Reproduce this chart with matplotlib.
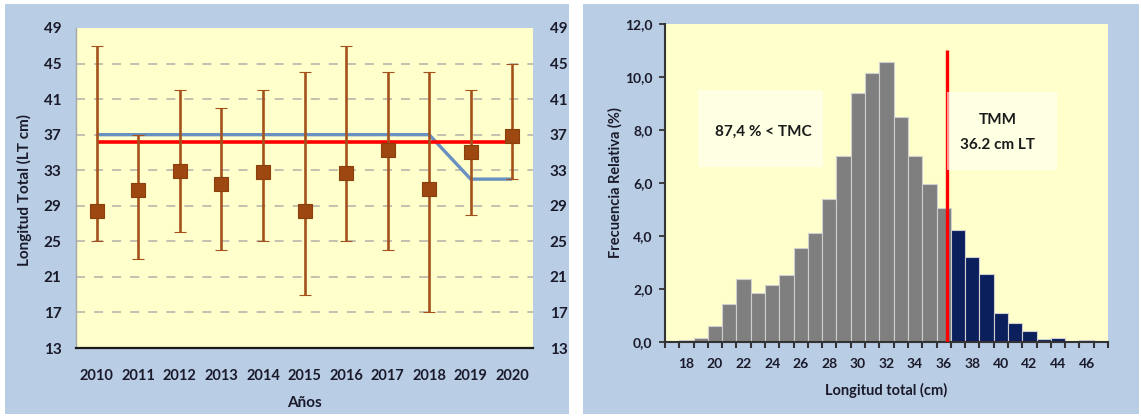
import matplotlib
matplotlib.use("Agg")
import matplotlib.pyplot as plt
from matplotlib.patches import Rectangle
from matplotlib.ticker import FixedLocator

# ---------------- data ----------------
years = ["2010", "2011", "2012", "2013", "2014", "2015",
         "2016", "2017", "2018", "2019", "2020"]
mean_lt = [28.4, 30.8, 32.9, 31.4, 32.8, 28.4, 32.7, 35.3, 30.9, 35.0, 36.8]
min_lt = [25, 23, 26, 24, 25, 19, 25, 24, 17, 28, 32]
max_lt = [47, 37, 42, 40, 42, 44, 47, 44, 44, 42, 45]
min_catch_size = [37, 37, 37, 37, 37, 37, 37, 37, 37, 32, 32]
tmm = 36.2
lt_ticks = [13, 17, 21, 25, 29, 33, 37, 41, 45, 49]

length_classes = list(range(17, 48))
rel_freq = [0.03, 0.05, 0.15, 0.60, 1.44, 2.36, 1.85, 2.13, 2.53, 3.53,
            4.10, 5.40, 7.00, 9.40, 10.15, 10.55, 8.50, 7.02, 5.97, 5.06,
            4.22, 3.20, 2.56, 1.08, 0.70, 0.42, 0.10, 0.14, 0.00, 0.05, 0.00]
freq_ticks = [0, 2, 4, 6, 8, 10, 12]
freq_tick_labels = ["0,0", "2,0", "4,0", "6,0", "8,0", "10,0", "12,0"]
length_ticks = list(range(18, 47, 2))
below_tmc_text = "87,4 % < TMC"

# ---------------- styling ----------------
W, H = 1141, 418
PANEL = "#b9cde5"
PLOT_BG = "#ffffcc"
BROWN = "#a4521c"
BROWN_DARK = "#8a3f0c"
GRAY_BAR = "#7f7f7f"
NAVY_BAR = "#0b1f5c"
TEXT = "#1a1a2a"
SANS = ["Lato", "DejaVu Sans"]

fig = plt.figure(figsize=(W / 100, H / 100), dpi=100)
fig.patch.set_facecolor("white")


def fx(px):
    return px / W


def fy(py):
    return 1 - py / H


def add_panel(x0, y0, x1, y1):
    fig.patches.append(Rectangle((fx(x0), fy(y1)), fx(x1) - fx(x0), fy(y0) - fy(y1),
                                 transform=fig.transFigure, facecolor=PANEL,
                                 edgecolor="none", zorder=-10))


add_panel(5, 4, 569, 414)
add_panel(583, 4, 1139, 414)

# ---------------- left: length by year ----------------
ax1 = fig.add_axes([fx(76), fy(348), fx(533) - fx(76), fy(28) - fy(348)])
ax1.set_facecolor(PLOT_BG)
x = list(range(len(years)))
ax1.set_xlim(-0.5, len(years) - 0.5)
ax1.set_ylim(lt_ticks[0], lt_ticks[-1])

ax1.hlines(lt_ticks[1:-1], -0.5, len(years) - 0.5, colors="#bdbcae",
           linestyles=(0, (5, 5)), linewidth=1.3, zorder=1)

ax1.plot(x, min_catch_size, color="#6890c0", lw=2.4, zorder=2, solid_capstyle="butt")
ax1.plot([x[0], x[-1]], [tmm, tmm], color="#ff0000", lw=2.6, zorder=3,
         solid_capstyle="butt")

yerr = [[m - lo for m, lo in zip(mean_lt, min_lt)],
        [hi - m for m, hi in zip(mean_lt, max_lt)]]
ax1.errorbar(x, mean_lt, yerr=yerr, fmt="s", color=BROWN, ecolor=BROWN,
             elinewidth=1.9, capsize=4.5, capthick=2.8, markersize=9.5,
             markerfacecolor="#9c4810", markeredgecolor=BROWN_DARK,
             markeredgewidth=0.8, zorder=4)

for side in ("top", "right"):
    ax1.spines[side].set_visible(False)
ax1.spines["bottom"].set_color("#1a1a1a")
ax1.spines["bottom"].set_linewidth(1.6)
ax1.spines["left"].set_color("#a8a8a8")
ax1.spines["left"].set_linewidth(1.0)

ax1.set_xticks(x)
ax1.set_xticklabels(years, fontfamily=SANS, fontweight="bold", fontsize=10.5,
                    color=TEXT)
ax1.tick_params(axis="x", length=0, pad=15)
ax1.set_yticks(lt_ticks)
ax1.set_yticklabels([str(v) for v in lt_ticks], fontfamily=SANS,
                    fontweight="bold", fontsize=11, color=TEXT)
ax1.tick_params(axis="y", length=0, pad=10.5)

ax1r = ax1.twinx()
ax1r.set_ylim(lt_ticks[0], lt_ticks[-1])
ax1r.set_yticks(lt_ticks)
ax1r.set_yticklabels([str(v) for v in lt_ticks], fontfamily=SANS,
                     fontweight="bold", fontsize=11, color=TEXT)
ax1r.tick_params(axis="y", length=0, pad=12)
for s in ax1r.spines.values():
    s.set_visible(False)

fig.text(fx(24), fy(190), "Longitud Total (LT cm)", rotation=90, ha="center",
         va="center", fontfamily=SANS, fontweight="bold", fontsize=11,
         color=TEXT)
fig.text(fx(304.5), fy(403), "Años", ha="center", va="center",
         fontfamily=SANS, fontweight="bold", fontsize=11, color=TEXT)

# ---------------- right: length frequency ----------------
ax2 = fig.add_axes([fx(665), fy(341.7), fx(1108) - fx(665), fy(24) - fy(341.7)])
ax2.set_facecolor(PLOT_BG)
ax2.set_xlim(length_classes[0] - 0.5, length_classes[-1] + 0.5)
ax2.set_ylim(freq_ticks[0], freq_ticks[-1])

bar_colors = [GRAY_BAR if c <= tmm else NAVY_BAR for c in length_classes]
ax2.bar(length_classes, rel_freq, width=1.0, color=bar_colors,
        edgecolor="#cfcfcf", linewidth=0.8, zorder=2)
ax2.vlines(tmm, 0, 11.0, color="#ff0000", lw=2.4, zorder=3)

ax2.add_patch(Rectangle((18.8, 6.6), 8.75, 2.9, facecolor="#fffff4",
                        edgecolor="none", alpha=0.6, zorder=4))
ax2.add_patch(Rectangle((tmm, 6.5), 7.7, 2.95, facecolor="#fffff4",
                        edgecolor="none", alpha=0.6, zorder=4))
ax2.text(23.36, 7.92, below_tmc_text, ha="center", va="center",
         fontfamily=SANS, fontweight="bold", fontsize=11, color="#1a1a1a", zorder=5)
ax2.text(39.8, 8.37, "TMM", ha="center", va="center",
         fontfamily=SANS, fontweight="bold", fontsize=11, color="#1a1a1a", zorder=5)
ax2.text(39.8, 7.43, f"{tmm} cm LT", ha="center", va="center",
         fontfamily=SANS, fontweight="bold", fontsize=11, color="#1a1a1a", zorder=5)

for side in ("top", "right"):
    ax2.spines[side].set_visible(False)
for side in ("left", "bottom"):
    ax2.spines[side].set_color("#333333")
    ax2.spines[side].set_linewidth(1.5)

ax2.set_yticks(freq_ticks)
ax2.set_yticklabels(freq_tick_labels, fontfamily=SANS, fontweight="bold",
                    fontsize=10, color=TEXT)
ax2.tick_params(axis="y", direction="out", length=4, width=1.3,
                color="#333333", pad=5)

ax2.set_xticks(length_ticks)
ax2.set_xticklabels([str(v) for v in length_ticks], fontfamily=SANS,
                    fontweight="bold", fontsize=10, color=TEXT)
ax2.tick_params(axis="x", which="major", length=0, pad=12)
ax2.xaxis.set_minor_locator(FixedLocator([c - 0.5 for c in length_classes]
                                         + [length_classes[-1] + 0.5]))
ax2.tick_params(axis="x", which="minor", direction="out", length=4.5,
                width=1.5, color="#333333")

fig.text(fx(615), fy(183), "Frecuencia Relativa (%)", rotation=90,
         ha="center", va="center", fontfamily=SANS, fontweight="bold",
         fontsize=10.5, color=TEXT)
fig.text(fx(886.5), fy(390), "Longitud total (cm)", ha="center", va="center",
         fontfamily=SANS, fontweight="bold", fontsize=10.5, color=TEXT)

fig.savefig("out.png", dpi=100, facecolor=fig.get_facecolor())
